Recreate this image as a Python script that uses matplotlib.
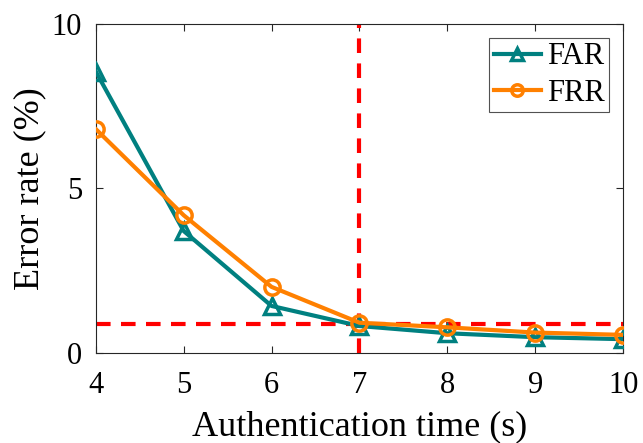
import matplotlib
matplotlib.use("Agg")
import matplotlib.pyplot as plt

# authentication time (s)
auth_time = [4, 5, 6, 7, 8, 9, 10]
# error rates (%)
far = [8.55, 3.7, 1.42, 0.81, 0.59, 0.47, 0.41]
frr = [6.8, 4.18, 2.0, 0.91, 0.77, 0.61, 0.54]
threshold_time = 7
threshold_rate = 0.88

plt.rcParams["font.family"] = ["Liberation Serif", "DejaVu Serif"]
plt.rcParams["mathtext.fontset"] = "stix"

fig = plt.figure(figsize=(6.43, 4.43), dpi=100)
ax = fig.add_axes([0.149, 0.204, 0.820, 0.742])

ax.plot(auth_time, far, color="#008080", lw=3, marker="^", ms=11, mew=2.5,
        mfc="none", label="FAR", zorder=3)
ax.plot(auth_time, frr, color="#FF8000", lw=3, marker="o", ms=11, mew=2.5,
        mfc="none", label="FRR", zorder=4)

ax.axvline(threshold_time, color="red", lw=3, ls=(0, (3.5, 2.5)), zorder=2)
ax.axhline(threshold_rate, color="red", lw=3, ls=(0, (3.5, 2.5)), zorder=2)

ax.set_xlim(4, 10)
ax.set_ylim(0, 10)
ax.set_xticks(auth_time)
ax.set_yticks([0, 5, 10])
ax.tick_params(direction="in", top=True, right=True, labelsize=22,
               length=5, width=0.8, color="#262626")
ax.tick_params(axis="x", pad=13)
ax.tick_params(axis="y", pad=10)
for s in ax.spines.values():
    s.set_color("#262626")
    s.set_linewidth(0.8)

ax.set_xlabel("Authentication time (s)", fontsize=26, labelpad=8)
ax.set_ylabel("Error rate (%)", fontsize=26, labelpad=4)

leg = ax.legend(loc="upper right", fontsize=22, frameon=True, fancybox=False,
                handlelength=1.55, handletextpad=0.2, borderpad=0.15,
                labelspacing=0.25, borderaxespad=0.45, markerscale=0.75)
leg.get_frame().set_edgecolor("#262626")
leg.get_frame().set_linewidth(0.8)

fig.savefig("out.png", dpi=100)
